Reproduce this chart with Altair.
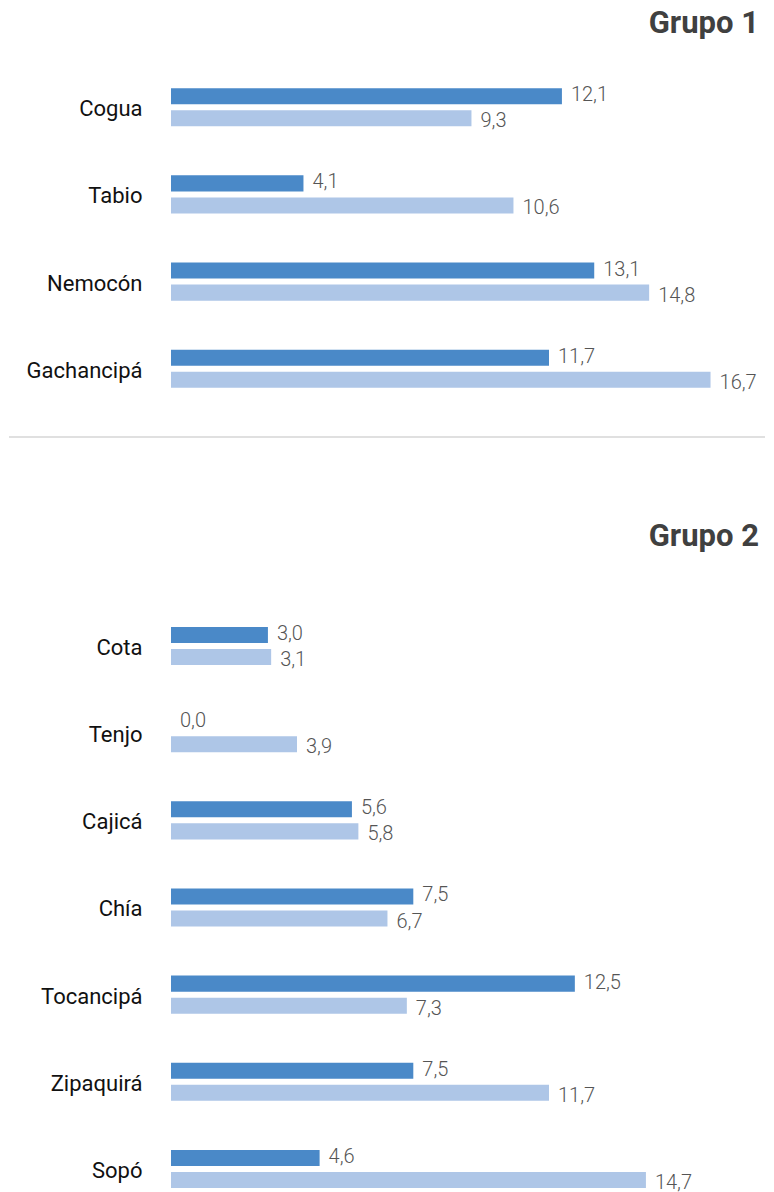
import altair as alt
import pandas as pd

# ---- data ----
g1_munis = ["Cogua", "Tabio", "Nemocón", "Gachancipá"]
g1_serie_a = [12.1, 4.1, 13.1, 11.7]
g1_serie_b = [9.3, 10.6, 14.8, 16.7]

g2_munis = ["Cota", "Tenjo", "Cajicá", "Chía", "Tocancipá", "Zipaquirá", "Sopó"]
g2_serie_a = [3.0, 0.0, 5.6, 7.5, 12.5, 7.5, 4.6]
g2_serie_b = [3.1, 3.9, 5.8, 6.7, 7.3, 11.7, 14.7]

series = ["A", "B"]
colors = ["#4A89C8", "#AEC6E7"]

W = 588
X_MAX = 18.2


def make_df(munis, a, b):
    rows = []
    for m, va, vb in zip(munis, a, b):
        rows.append({"muni": m, "serie": "A", "valor": va})
        rows.append({"muni": m, "serie": "B", "valor": vb})
    return pd.DataFrame(rows)


def panel(title, munis, a, b, height, pad_outer, align, title_offset, sep=False):
    df = make_df(munis, a, b)
    base = alt.Chart(df).transform_calculate(
        label="replace(format(datum.valor, '.1f'), '.', ',')"
    ).encode(
        y=alt.Y(
            "muni:N",
            sort=munis,
            scale=alt.Scale(paddingInner=0.563, paddingOuter=pad_outer, align=align),
            axis=alt.Axis(
                title=None, ticks=False, domain=False, tickSize=0,
                labelPadding=29, labelFontSize=22, labelColor="#111111",
                labelFont="Roboto", labelLimit=0, labelOffset=2,
                minExtent=162, maxExtent=162,
            ),
        ),
        yOffset=alt.YOffset(
            "serie:N", sort=series,
            scale=alt.Scale(paddingInner=0.273, paddingOuter=0),
        ),
        x=alt.X("valor:Q", scale=alt.Scale(domain=[0, X_MAX]), axis=None),
    )
    bars = base.mark_bar().encode(
        color=alt.Color("serie:N", scale=alt.Scale(domain=series, range=colors), legend=None)
    )
    lab_a = base.transform_filter("datum.serie == 'A'").mark_text(
        align="left", baseline="middle", dx=9, dy=-1, fontSize=20,
        font="Roboto", fontWeight=300, color="#555555",
    ).encode(text="label:N")
    lab_b = base.transform_filter("datum.serie == 'B'").mark_text(
        align="left", baseline="middle", dx=9, dy=3, fontSize=20,
        font="Roboto", fontWeight=300, color="#555555",
    ).encode(text="label:N")
    layers = [bars, lab_a, lab_b]
    if sep:
        rule = alt.Chart(pd.DataFrame({"k": [0]})).mark_rule(
            color="#d6d6d6", strokeWidth=1.5
        ).encode(x=alt.value(-162), x2=alt.value(594), y=alt.value(height + 19))
        layers.append(rule)
    return alt.layer(*layers).properties(
        width=W, height=height,
        title=alt.Title(
            title, anchor="end", frame="group", fontSize=31, fontWeight="bold",
            font="Roboto", color="#404040", offset=title_offset,
        ),
    )


p1 = panel("Grupo 1", g1_munis, g1_serie_a, g1_serie_b, 360, 0.3455, 0.5, 18, sep=True)
p2 = panel("Grupo 2", g2_munis, g2_serie_a, g2_serie_b, 591, 0.172, 1.0, 44)

chart = alt.vconcat(p1, p2, spacing=83).properties(
    padding={"left": 0, "top": 0, "right": 0, "bottom": 0}
).configure_view(stroke=None)

chart.save("out.html", embed_options={"renderer": "svg", "actions": False})
